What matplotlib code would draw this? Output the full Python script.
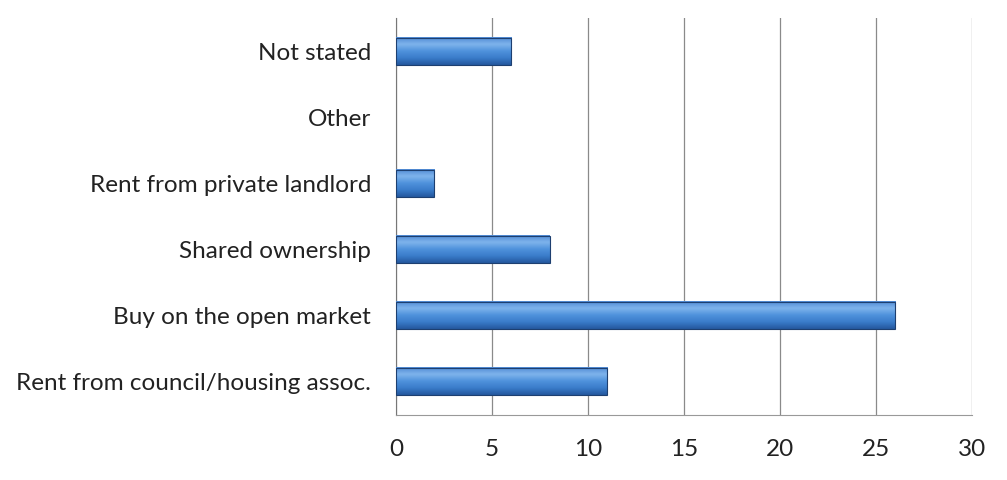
import matplotlib
matplotlib.use("Agg")
import matplotlib.pyplot as plt
import numpy as np
from matplotlib.colors import LinearSegmentedColormap

categories = ["Rent from council/housing assoc.", "Buy on the open market",
              "Shared ownership", "Rent from private landlord", "Other", "Not stated"]
values = [11, 26, 8, 2, 0, 6]
xticks = [0, 5, 10, 15, 20, 25, 30]

plt.rcParams['font.family'] = ['Lato', 'DejaVu Sans']

fig = plt.figure(figsize=(10.07, 4.8), dpi=100)
ax = fig.add_axes([396/1007, 1-415/480, (972-396)/1007, (415-18)/480])

y = np.arange(len(categories))
bars = ax.barh(y, values, height=0.41, color="#3b78c6", edgecolor="none", zorder=2)

cmap = LinearSegmentedColormap.from_list("g", ["#24589e", "#3a7cca", "#4f92dc", "#7fb4ec", "#4f8ad4"])
grad = np.linspace(0, 1, 64).reshape(-1, 1)
for b in bars:
    w = b.get_width()
    if w <= 0:
        continue
    x0, y0, h = b.get_x(), b.get_y(), b.get_height()
    ax.imshow(grad, extent=(x0, x0 + w, y0, y0 + h), origin="lower", aspect="auto",
              cmap=cmap, zorder=3, interpolation="bicubic")
    ax.add_patch(plt.Rectangle((x0, y0), w, h, fill=False, edgecolor="#1d3f70",
                               linewidth=0.8, zorder=4))

ax.set_xlim(0, 30)
ax.set_ylim(-0.5, len(categories) - 0.5)
ax.set_xticks(xticks)
ax.set_xticklabels([str(t) for t in xticks], fontsize=17.5, color="#222222")
ax.set_yticks(y)
ax.set_yticklabels(categories, fontsize=17.5, color="#222222")
ax.tick_params(axis="y", length=0, pad=18)
ax.tick_params(axis="x", length=0, pad=17)
ax.grid(axis="x", color="#8a8a8a", linewidth=0.9, zorder=1)
for s in ["top", "right"]:
    ax.spines[s].set_visible(False)
ax.spines["left"].set_color("#777777")
ax.spines["bottom"].set_color("#999999")

fig.savefig("out.png", dpi=100)
